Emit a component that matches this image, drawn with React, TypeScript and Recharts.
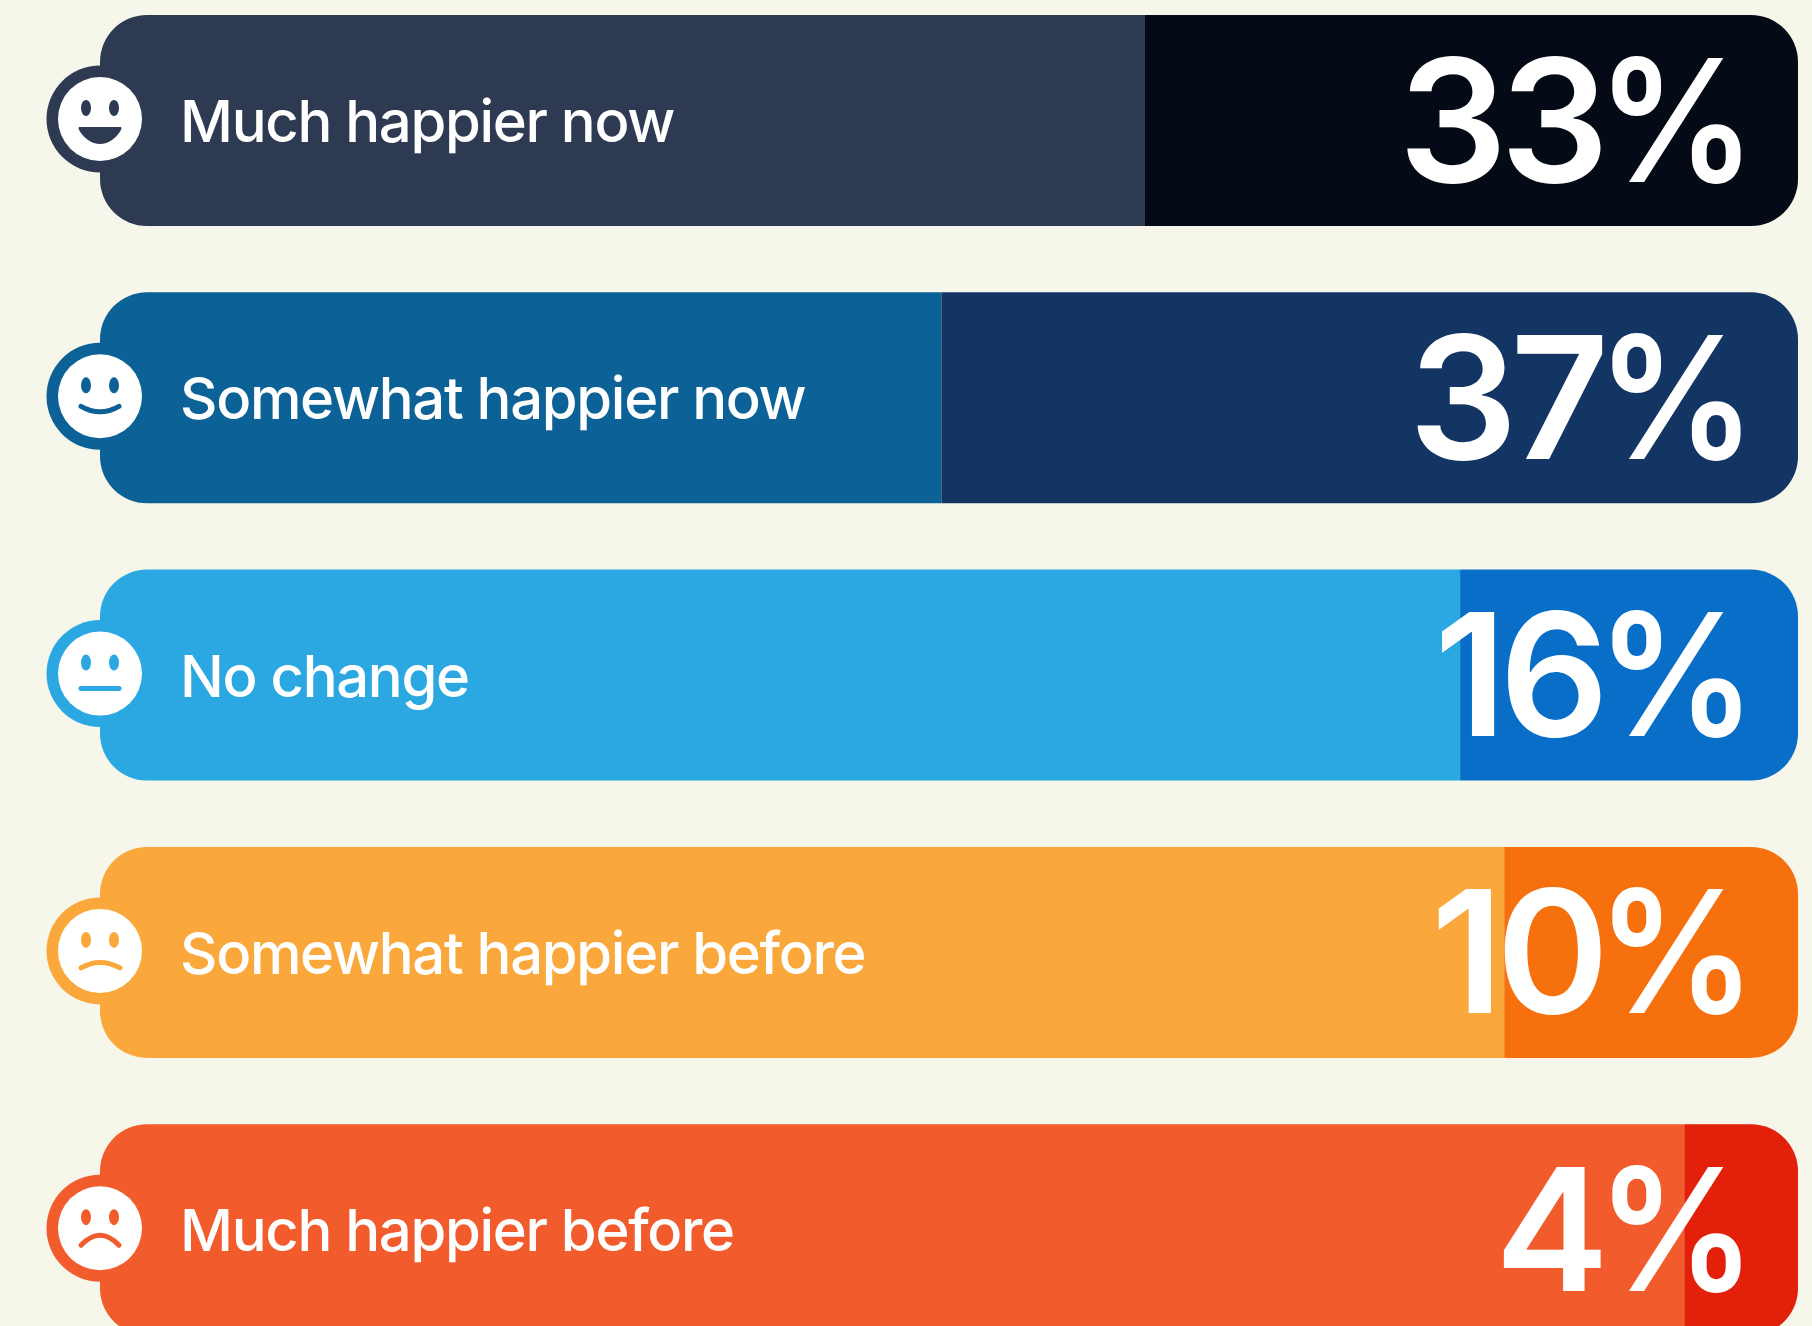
import React from "react";
import { BarChart, Bar, XAxis, YAxis, Cell, LabelList } from "recharts";

const categories = ["Much happier now", "Somewhat happier now", "No change", "Somewhat happier before", "Much happier before"];
const percentLabels = [33, 37, 16, 10, 4];
// Width of the darker end segment, as a share of the full pill
const darkShare = [38.5, 50.45, 19.9, 17.3, 6.7];
const lightShare = [61.5, 49.55, 80.1, 82.7, 93.3];
const lightColors = ["#2E3A51", "#0C6196", "#2BA8E1", "#FAA83B", "#F25B2B"];
const darkColors = ["#040B17", "#133564", "#096EC7", "#F6700E", "#E3210A"];
const moods = ["big", "smile", "flat", "sad", "verysad"];

const data = categories.map((name, i) => ({
  name,
  light: lightShare[i],
  dark: darkShare[i],
  percent: percentLabels[i],
  mood: moods[i],
  color: lightColors[i],
}));

const FONT = "Inter, 'Liberation Sans', sans-serif";

function Face({ cx, cy, mood, color }: any) {
  const mouth: any = {
    stroke: color,
    strokeWidth: 5,
    strokeLinecap: "round",
    fill: "none",
  };
  return (
    <g>
      <circle cx={cx} cy={cy} r={53.5} fill={color} />
      <circle cx={cx} cy={cy} r={42} fill="#FFFFFF" />
      <ellipse cx={cx - 14} cy={cy - 11} rx={5} ry={8} fill={color} />
      <ellipse cx={cx + 14} cy={cy - 11} rx={5} ry={8} fill={color} />
      {mood === "big" && (
        <path d={`M${cx - 21} ${cy + 8}H${cx + 21}Q${cx + 22} ${cy + 9} ${cx + 21} ${cy + 11}C${cx + 15} ${cy + 21} ${cx + 7} ${cy + 25} ${cx} ${cy + 25}C${cx - 7} ${cy + 25} ${cx - 15} ${cy + 21} ${cx - 21} ${cy + 11}Q${cx - 22} ${cy + 9} ${cx - 21} ${cy + 8}Z`} fill={color} />
      )}
      {mood === "smile" && <path d={`M${cx - 19} ${cy + 10}Q${cx} ${cy + 21} ${cx + 19} ${cy + 10}`} {...mouth} />}
      {mood === "flat" && <path d={`M${cx - 19} ${cy + 15}H${cx + 19}`} {...mouth} />}
      {mood === "sad" && <path d={`M${cx - 19} ${cy + 17}Q${cx} ${cy + 6} ${cx + 20} ${cy + 17}`} {...mouth} />}
      {mood === "verysad" && <path d={`M${cx - 19} ${cy + 17}Q${cx} ${cy - 3} ${cx + 19} ${cy + 17}`} {...mouth} />}
    </g>
  );
}

function NameLabel(props: any) {
  const { x, y, height, index } = props;
  const d = data[index];
  const mid = y + height / 2;
  return (
    <g>
      <Face cx={x} cy={mid - 1.5} mood={d.mood} color={d.color} />
      <text x={x + 80} y={mid + 21.5} fontFamily={FONT} fontSize={58} fontWeight={500} letterSpacing={-1.3} fill="#FFFFFF">
        {d.name}
      </text>
    </g>
  );
}

function PercentLabel(props: any) {
  const { x, width, y, height, index } = props;
  const mid = y + height / 2;
  const right = x + width;
  const base = mid + 61;
  return (
    <g fontFamily={FONT} fontWeight={600} fontSize={171} fill="#FFFFFF">
      <text x={right - 196} y={base} textAnchor="end" letterSpacing={-7}>
        {percentLabels[index]}
      </text>
      <text x={right - 201} y={base} textLength={159} lengthAdjust="spacingAndGlyphs">
        %
      </text>
    </g>
  );
}

export default function App() {
  return (
    <div style={{ position: "absolute", left: 0, top: 0, width: 1812, height: 1326, overflow: "hidden", background: "#F6F6EA" }}>
      <div style={{ position: "absolute", left: 0, top: -18 }}>
        <BarChart
          width={1812}
          height={1386.5}
          data={data}
          layout="vertical"
          margin={{ top: 0, right: 14, bottom: 0, left: 100 }}
          barSize={211}
        >
          <XAxis type="number" domain={[0, 100]} hide />
          <YAxis type="category" dataKey="name" hide />
          <Bar dataKey="light" stackId="a" isAnimationActive={false} radius={[47, 0, 0, 47]}>
            {data.map((_, i) => (
              <Cell key={i} fill={lightColors[i]} />
            ))}
            <LabelList dataKey="name" content={NameLabel} />
          </Bar>
          <Bar dataKey="dark" stackId="a" isAnimationActive={false} radius={[0, 47, 47, 0]}>
            {data.map((_, i) => (
              <Cell key={i} fill={darkColors[i]} />
            ))}
            <LabelList dataKey="percent" content={PercentLabel} />
          </Bar>
        </BarChart>
      </div>
    </div>
  );
}
